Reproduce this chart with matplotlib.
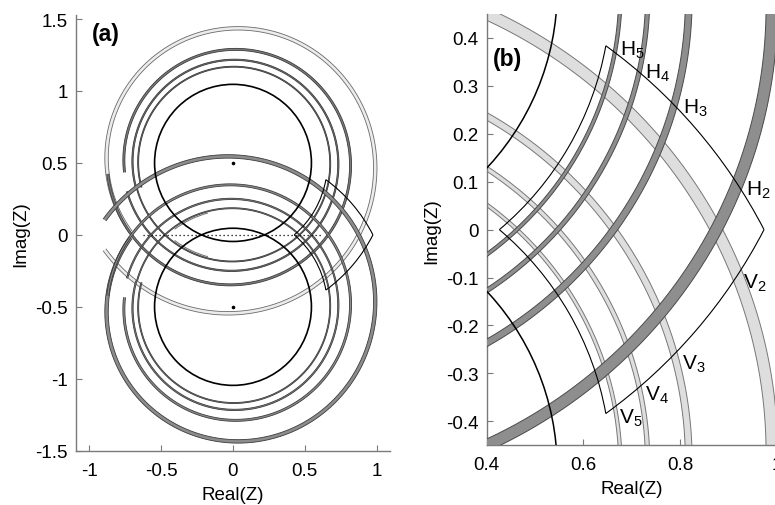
import numpy as np
import matplotlib
matplotlib.use('Agg')
import matplotlib.pyplot as plt
from matplotlib.patches import Polygon, Arc

plt.rcParams['font.family'] = ['Liberation Sans', 'DejaVu Sans']
plt.rcParams['mathtext.fontset'] = 'custom'
plt.rcParams['mathtext.rm'] = 'Liberation Sans'
plt.rcParams['mathtext.it'] = 'Liberation Sans:italic'

# ---------------- data ----------------
# two families of spiral-like loci, centred on the imaginary axis
family_center_y = [0.5, -0.5]          # upper family (H), lower family (V, mirror)
band_index = ['2', '3', '4', '5']      # outer -> inner
band_start_deg = [146, 175, 165, 165]  # start angle of each locus (deg, from centre)
band_r_start = [1.079, 0.875, 0.764, 0.692]
band_r_end = [0.859, 0.758, 0.697, 0.659]
band_width = [0.024, 0.014, 0.009, 0.007]
inner_circle_r = 0.546
quad_radii = [0.657, 1.095]            # inner / outer radius of the feasible region
real_segment = [-0.63, 0.63]           # dotted segment on the real axis
short_arc = [0.675, 105, 127]          # radius, theta1, theta2 (deg)

a_xticks = [-1, -0.5, 0, 0.5, 1]
a_xticklabels = ['-1', '-0.5', '0', '0.5', '1']
a_yticks = [-1.5, -1, -0.5, 0, 0.5, 1, 1.5]
a_yticklabels = ['-1.5', '-1', '-0.5', '0', '0.5', '1', '1.5']
b_xticks = [0.4, 0.6, 0.8, 1.0]
b_xticklabels = ['0.4', '0.6', '0.8', '1']
b_yticks = [-0.4, -0.3, -0.2, -0.1, 0, 0.1, 0.2, 0.3, 0.4]
b_yticklabels = ['-0.4', '-0.3', '-0.2', '-0.1', '0', '0.1', '0.2', '0.3', '0.4']

# ---------------- helpers ----------------
def locus(cy, start, r0, r1, w):
    sign = 1 if cy > 0 else -1
    t = np.linspace(0, 1, 900)
    th = np.deg2rad(sign * (-start + 360 * t))
    r = r0 + (r1 - r0) * t
    ro, ri = r + w / 2, r - w / 2
    xo, yo = ro * np.cos(th), cy + ro * np.sin(th)
    xi, yi = ri * np.cos(th), cy + ri * np.sin(th)
    return (xo, yo), (xi, yi)

def draw_band(ax, cy, k, fill, edge, lw, z):
    (xo, yo), (xi, yi) = locus(cy, band_start_deg[k], band_r_start[k], band_r_end[k], band_width[k])
    poly = Polygon(np.column_stack([np.r_[xo, xi[::-1]], np.r_[yo, yi[::-1]]]),
                   closed=True, facecolor=fill, edgecolor='none', zorder=z)
    ax.add_patch(poly)
    ax.plot(xo, yo, color=edge, lw=lw, zorder=z + 0.1, solid_capstyle='butt')
    ax.plot(xi, yi, color=edge, lw=lw, zorder=z + 0.1, solid_capstyle='butt')

def draw_quad(ax, lw):
    ri, ro = quad_radii
    def vertex(a, b):   # a: radius around upper centre, b: around lower centre
        y = (b ** 2 - a ** 2) / 2.0
        x = np.sqrt(a ** 2 - (y - 0.5) ** 2)
        return x, y
    xl, yl = vertex(ri, ri)
    xt, yt = vertex(ri, ro)
    xr, yr = vertex(ro, ro)
    xb, yb = vertex(ro, ri)
    ang = lambda x, y, c: np.degrees(np.arctan2(y - c, x))
    arcs = [((0, 0.5), ri, ang(xl, yl, 0.5), ang(xt, yt, 0.5)),
            ((0, -0.5), ro, ang(xr, yr, -0.5), ang(xt, yt, -0.5)),
            ((0, 0.5), ro, ang(xb, yb, 0.5), ang(xr, yr, 0.5)),
            ((0, -0.5), ri, ang(xb, yb, -0.5), ang(xl, yl, -0.5))]
    for c, r, t1, t2 in arcs:
        ax.add_patch(Arc(c, 2 * r, 2 * r, theta1=t1, theta2=t2, color='black', lw=lw, zorder=6))

def style_axes(ax):
    for s in ['top', 'right']:
        ax.spines[s].set_visible(False)
    for s in ['left', 'bottom']:
        ax.spines[s].set_color('#7a7a7a')
        ax.spines[s].set_linewidth(1.0)
    ax.tick_params(direction='in', length=4, width=0.8, color='#7a7a7a',
                   labelcolor='black', labelsize=13.5, pad=6)
    ax.tick_params(axis='x', pad=8)

fig = plt.figure(figsize=(7.75, 5.06), dpi=100)
W, H = 775.0, 506.0
axA = fig.add_axes([76 / W, (H - 451.7) / H, 314 / W, 436 / H])
axB = fig.add_axes([486.7 / W, (H - 446.3) / H, 289.8 / W, 431.3 / H])

# ---------------- panel (a) ----------------
for k in range(4):
    if k == 0:
        draw_band(axA, family_center_y[0], k, '#ececec', '#6a6a6a', 0.6, 2)
    else:
        draw_band(axA, family_center_y[0], k, '#7c7c7c', '#3a3a3a', 0.6, 2)
for k in range(4):
    draw_band(axA, family_center_y[1], k, '#8c8c8c', '#3c3c3c', 0.6, 3)
for cy in family_center_y:
    axA.add_patch(plt.Circle((0, cy), inner_circle_r, fill=False, color='black', lw=1.2, zorder=5))
axA.add_patch(Arc((0, family_center_y[1]), 2 * short_arc[0], 2 * short_arc[0],
                  theta1=short_arc[1], theta2=short_arc[2], color='#777777', lw=0.8, zorder=4))
axA.add_patch(Arc((0, family_center_y[0]), 2 * short_arc[0], 2 * short_arc[0],
                  theta1=-short_arc[2], theta2=-short_arc[1], color='#777777', lw=0.8, zorder=4))
axA.plot(real_segment, [0, 0], color='black', lw=0.9, linestyle=(0, (1, 2.2)), zorder=6)
axA.plot([0, 0], family_center_y, linestyle='none', marker='o', ms=1.6, color='black', zorder=6)
draw_quad(axA, 0.8)
axA.set_xlim(-1.093, 1.093)
axA.set_ylim(-1.5, 1.53)
axA.set_xticks(a_xticks, a_xticklabels)
axA.set_yticks(a_yticks, a_yticklabels)
style_axes(axA)
axA.set_xlabel('Real(Z)', fontsize=13.5, labelpad=5)
axA.set_ylabel('Imag(Z)', fontsize=13.5, labelpad=4)
axA.text(-0.98, 1.40, '(a)', fontsize=16.5, fontweight='bold', va='center', ha='left')

# ---------------- panel (b) ----------------
for k in range(4):
    draw_band(axB, family_center_y[1], k, '#dedede', '#777777', 0.7, 2)
for k in range(4):
    draw_band(axB, family_center_y[0], k, '#8e8e8e', '#4a4a4a', 0.7, 3)
for cy in family_center_y:
    axB.add_patch(plt.Circle((0, cy), inner_circle_r, fill=False, color='black', lw=1.1, zorder=5))
draw_quad(axB, 0.8)
axB.set_xlim(0.4, 1.0)
axB.set_ylim(-0.45, 0.45)
axB.set_xticks(b_xticks, b_xticklabels)
axB.set_yticks(b_yticks, b_yticklabels)
style_axes(axB)
axB.set_xlabel('Real(Z)', fontsize=13.5, labelpad=5)
axB.set_ylabel('Imag(Z)', fontsize=13.5, labelpad=4)
axB.text(0.413, 0.357, '(b)', fontsize=16.5, fontweight='bold', va='center', ha='left')

h_pos = [(0.937, 0.073), (0.807, 0.244), (0.728, 0.317), (0.676, 0.365)]
v_pos = [(0.930, -0.121), (0.805, -0.290), (0.728, -0.355), (0.674, -0.403)]
for k in range(4):
    axB.text(h_pos[k][0], h_pos[k][1], 'H$_{%s}$' % band_index[k], fontsize=15,
             ha='left', va='baseline', zorder=7)
    axB.text(v_pos[k][0], v_pos[k][1], 'V$_{%s}$' % band_index[k], fontsize=15,
             ha='left', va='baseline', zorder=7)

fig.savefig('out.png', dpi=100)
